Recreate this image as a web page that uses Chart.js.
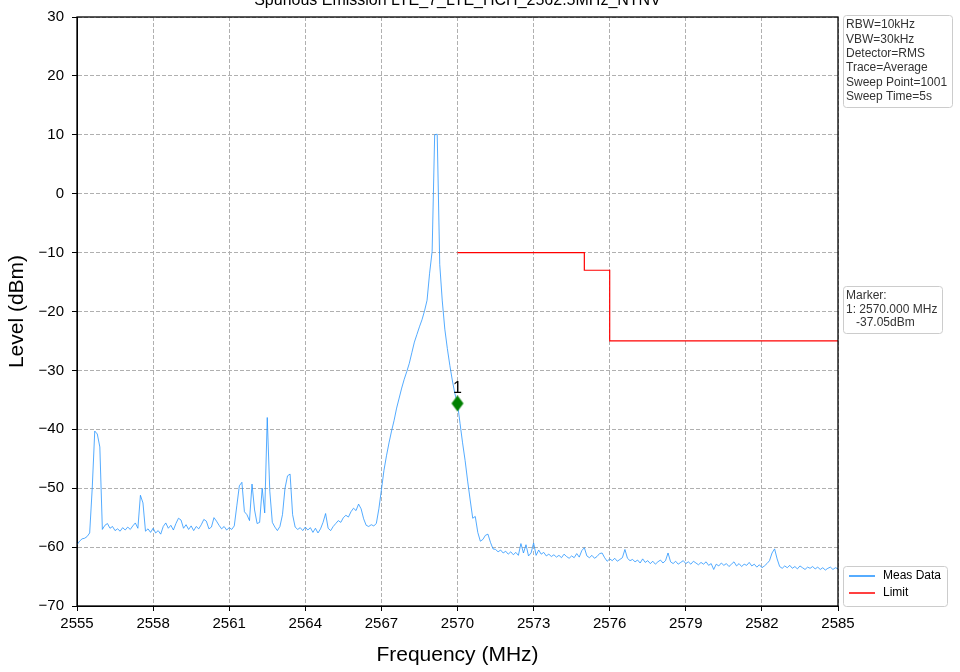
<!DOCTYPE html>
<html><head><meta charset="utf-8">
<script src="https://cdn.jsdelivr.net/npm/chart.js@4.4.0/dist/chart.umd.min.js"></script>
<style>html,body{margin:0;padding:0;background:#fff}#wrap{width:960px;height:672px}</style>
</head><body><div id="wrap"><canvas id="c" width="960" height="672"></canvas></div>
<script>
const chartTitle = 'Spurious Emission LTE_7_LTE_HCH_2562.5MHz_NTNV';
const xAxisTitle = 'Frequency (MHz)';
const yAxisTitle = 'Level (dBm)';
const seriesNames = ['Meas Data', 'Limit'];
const infoLines = ['RBW=10kHz', 'VBW=30kHz', 'Detector=RMS', 'Trace=Average', 'Sweep Point=1001', 'Sweep Time=5s'];
const markerInfo = ['Marker:', '1: 2570.000 MHz', '   -37.05dBm'];
const xTicks = [2555, 2558, 2561, 2564, 2567, 2570, 2573, 2576, 2579, 2582, 2585];
const yTicks = [-70, -60, -50, -40, -30, -20, -10, 0, 10, 20, 30];

const freqs = [
2555.0,2555.1,2555.2,2555.3,2555.4,2555.5,2555.6,2555.7,2555.8,2555.9,
2556.0,2556.1,2556.2,2556.3,2556.4,2556.5,2556.6,2556.7,2556.8,2556.9,
2557.0,2557.1,2557.2,2557.3,2557.4,2557.5,2557.6,2557.7,2557.8,2557.9,
2558.0,2558.1,2558.2,2558.3,2558.4,2558.5,2558.6,2558.7,2558.8,2558.9,
2559.0,2559.1,2559.2,2559.3,2559.4,2559.5,2559.6,2559.7,2559.8,2559.9,
2560.0,2560.1,2560.2,2560.3,2560.4,2560.5,2560.6,2560.7,2560.8,2560.9,
2561.0,2561.1,2561.2,2561.3,2561.4,2561.5,2561.6,2561.7,2561.8,2561.9,
2562.0,2562.1,2562.2,2562.3,2562.4,2562.5,2562.6,2562.7,2562.8,2562.9,
2563.0,2563.1,2563.2,2563.3,2563.4,2563.5,2563.6,2563.7,2563.8,2563.9,
2564.0,2564.1,2564.2,2564.3,2564.4,2564.5,2564.6,2564.7,2564.8,2564.9,
2565.0,2565.1,2565.2,2565.3,2565.4,2565.5,2565.6,2565.7,2565.8,2565.9,
2566.0,2566.1,2566.2,2566.3,2566.4,2566.5,2566.6,2566.7,2566.8,2566.9,
2567.0,2567.1,2567.2,2567.3,2567.4,2567.5,2567.6,2567.7,2567.8,2567.9,
2568.0,2568.1,2568.2,2568.3,2568.4,2568.5,2568.6,2568.7,2568.8,2568.9,
2569.0,2569.1,2569.2,2569.3,2569.4,2569.5,2569.6,2569.7,2569.8,2569.9,
2570.0,2570.1,2570.2,2570.3,2570.4,2570.5,2570.6,2570.7,2570.8,2570.9,
2571.0,2571.1,2571.2,2571.3,2571.4,2571.5,2571.6,2571.7,2571.8,2571.9,
2572.0,2572.1,2572.2,2572.3,2572.4,2572.5,2572.6,2572.7,2572.8,2572.9,
2573.0,2573.1,2573.2,2573.3,2573.4,2573.5,2573.6,2573.7,2573.8,2573.9,
2574.0,2574.1,2574.2,2574.3,2574.4,2574.5,2574.6,2574.7,2574.8,2574.9,
2575.0,2575.1,2575.2,2575.3,2575.4,2575.5,2575.6,2575.7,2575.8,2575.9,
2576.0,2576.1,2576.2,2576.3,2576.4,2576.5,2576.6,2576.7,2576.8,2576.9,
2577.0,2577.1,2577.2,2577.3,2577.4,2577.5,2577.6,2577.7,2577.8,2577.9,
2578.0,2578.1,2578.2,2578.3,2578.4,2578.5,2578.6,2578.7,2578.8,2578.9,
2579.0,2579.1,2579.2,2579.3,2579.4,2579.5,2579.6,2579.7,2579.8,2579.9,
2580.0,2580.1,2580.2,2580.3,2580.4,2580.5,2580.6,2580.7,2580.8,2580.9,
2581.0,2581.1,2581.2,2581.3,2581.4,2581.5,2581.6,2581.7,2581.8,2581.9,
2582.0,2582.1,2582.2,2582.3,2582.4,2582.5,2582.6,2582.7,2582.8,2582.9,
2583.0,2583.1,2583.2,2583.3,2583.4,2583.5,2583.6,2583.7,2583.8,2583.9,
2584.0,2584.1,2584.2,2584.3,2584.4,2584.5,2584.6,2584.7,2584.8,2584.9,
2585.0];

const levels = [
-59.6,-59.0,-58.6,-58.5,-58.2,-57.6,-50.0,-40.3,-40.8,-43.0,
-57.0,-56.3,-56.0,-56.8,-56.5,-57.2,-56.9,-57.3,-56.7,-57.1,
-56.6,-57.0,-56.4,-55.9,-56.8,-51.2,-52.5,-57.3,-56.9,-57.5,
-56.8,-57.6,-57.2,-57.8,-56.5,-55.9,-56.8,-56.3,-57.1,-56.0,
-55.1,-55.4,-56.8,-56.2,-57.0,-56.4,-57.2,-56.5,-56.9,-56.2,
-55.3,-55.6,-56.9,-56.6,-55.0,-55.6,-56.3,-56.9,-56.5,-57.1,
-56.7,-57.0,-56.4,-53.0,-49.6,-49.0,-54.0,-54.5,-55.5,-49.3,
-53.7,-56.0,-55.8,-50.0,-54.2,-38.0,-50.5,-55.8,-56.6,-57.2,
-56.5,-54.5,-50.0,-47.9,-47.6,-54.5,-56.6,-57.0,-56.7,-57.2,
-56.6,-57.1,-56.7,-57.5,-56.8,-57.6,-56.9,-55.8,-54.3,-56.8,
-57.2,-56.5,-56.0,-55.5,-55.8,-55.0,-54.6,-54.9,-54.0,-53.4,
-53.8,-52.7,-53.5,-55.2,-56.3,-56.5,-56.2,-56.4,-56.0,-53.5,
-50.3,-47.0,-44.5,-42.3,-40.3,-38.5,-36.4,-34.7,-33.0,-31.5,
-30.2,-28.8,-27.0,-25.2,-23.9,-22.6,-21.4,-19.9,-18.1,-13.5,
-9.8,10.0,10.1,-12.0,-18.2,-23.0,-26.3,-29.2,-31.8,-34.0,
-35.6,-39.0,-42.3,-45.3,-48.8,-52.0,-55.1,-54.8,-57.5,-59.0,
-58.7,-58.0,-57.8,-59.2,-60.3,-60.4,-60.8,-60.5,-61.0,-60.7,
-61.2,-60.8,-61.3,-60.9,-61.4,-59.4,-61.0,-59.6,-61.5,-61.0,
-59.3,-61.4,-60.5,-61.2,-60.9,-61.5,-61.2,-61.6,-61.3,-61.7,
-61.4,-61.8,-61.2,-61.6,-61.9,-61.5,-61.8,-61.1,-61.7,-60.6,
-60.1,-61.5,-61.8,-61.4,-61.9,-61.6,-61.1,-61.0,-61.8,-62.4,
-62.0,-62.3,-61.9,-62.4,-62.1,-61.8,-60.4,-61.9,-62.3,-62.1,
-62.5,-62.2,-62.7,-62.0,-62.6,-62.3,-62.8,-62.4,-62.9,-62.5,
-62.2,-62.7,-62.3,-61.0,-62.5,-62.8,-62.4,-62.9,-62.6,-62.3,
-62.8,-62.5,-62.9,-62.4,-62.7,-63.0,-62.6,-62.9,-62.5,-63.1,
-62.8,-63.8,-62.9,-63.2,-62.7,-63.1,-62.8,-63.3,-62.9,-62.5,
-63.2,-62.8,-63.3,-62.9,-63.1,-62.6,-63.2,-62.9,-63.4,-63.0,
-63.5,-63.2,-62.8,-62.3,-61.0,-60.3,-62.0,-63.3,-63.6,-63.2,
-63.5,-63.1,-63.6,-63.3,-63.7,-63.2,-63.5,-63.8,-63.4,-63.6,
-63.3,-63.7,-63.4,-63.8,-63.5,-63.9,-63.6,-63.4,-63.8,-63.5,
-63.7];

const limitFreqs = [2570, 2575, 2575, 2576, 2576, 2585];
const limitLevels = [-10, -10, -13, -13, -25, -25];
const markerFreqs = [2570];
const markerLevels = [-35.6];
const markerNames = ['1'];

const FONT = "'Liberation Sans', Arial, Helvetica, sans-serif";

// thin diamond marker image
const dia = document.createElement('canvas');
dia.width = 14; dia.height = 18;
(function(){ const g = dia.getContext('2d'); g.fillStyle = '#008000'; g.beginPath();
  g.moveTo(7,1); g.lineTo(13,9); g.lineTo(7,17); g.lineTo(1,9); g.closePath(); g.fill(); })();

function roundRect(ctx, x, y, w, h, r) {
  ctx.beginPath();
  ctx.moveTo(x + r, y); ctx.lineTo(x + w - r, y); ctx.arcTo(x + w, y, x + w, y + r, r);
  ctx.lineTo(x + w, y + h - r); ctx.arcTo(x + w, y + h, x + w - r, y + h, r);
  ctx.lineTo(x + r, y + h); ctx.arcTo(x, y + h, x, y + h - r, r);
  ctx.lineTo(x, y + r); ctx.arcTo(x, y, x + r, y, r); ctx.closePath();
}

const decor = {
  id: 'decor',
  afterDraw(chart) {
    const ctx = chart.ctx, a = chart.chartArea;
    const xs = chart.scales.x, ys = chart.scales.y;
    ctx.save();
    ctx.strokeStyle = '#000'; ctx.lineWidth = 1.3;
    ctx.strokeRect(a.left, a.top, a.right - a.left, a.bottom - a.top);
    ctx.fillStyle = '#000'; ctx.font = '16px ' + FONT;
    ctx.textAlign = 'center'; ctx.textBaseline = 'alphabetic';
    ctx.fillText(chartTitle, (a.left + a.right) / 2, 5);
    ctx.font = '16px ' + FONT;
    for (let i = 0; i < markerFreqs.length; i++) {
      ctx.fillText(markerNames[i], xs.getPixelForValue(markerFreqs[i]), ys.getPixelForValue(markerLevels[i]) - 10);
    }
    const bx = a.right + 5;
    function box(y, w, h) {
      roundRect(ctx, bx + 0.5, y + 0.5, w, h, 3);
      ctx.fillStyle = 'rgba(255,255,255,0.8)'; ctx.fill();
      ctx.strokeStyle = '#cccccc'; ctx.lineWidth = 1; ctx.stroke();
    }
    ctx.font = '12px ' + FONT; ctx.textAlign = 'left'; ctx.textBaseline = 'middle';
    box(15, 109, 92);
    infoLines.forEach((t, i) => { ctx.fillStyle = '#333'; ctx.fillText(t, bx + 3, 25 + i * 14.3); });
    box(286, 99, 47);
    markerInfo.forEach((t, i) => { ctx.fillStyle = '#333'; ctx.fillText(t, bx + 3, 296 + i * 13.5); });
    box(566, 104, 40);
    const cols = ['#1E90FF', '#FF0000'];
    seriesNames.forEach((t, i) => {
      const yy = 576 + i * 17;
      ctx.strokeStyle = cols[i]; ctx.lineWidth = 1.5;
      ctx.beginPath(); ctx.moveTo(bx + 6, yy); ctx.lineTo(bx + 32, yy); ctx.stroke();
      ctx.fillStyle = '#000'; ctx.fillText(t, bx + 40, yy);
    });
    ctx.restore();
  }
};

const gridOpts = { color: '#b0b0b0', lineWidth: 1, tickLength: 5, tickColor: '#000', tickWidth: 1, tickBorderDash: [], drawTicks: true };
const fmtTick = v => (v < 0 ? '\u2212' + Math.abs(v) : String(v));

new Chart(document.getElementById('c'), {
  type: 'line',
  data: {
    datasets: [
      { label: 'Marker', data: markerFreqs.map((f, i) => ({ x: f, y: markerLevels[i] })),
        showLine: false, pointStyle: dia, pointRadius: 8, order: 0 },
      { label: seriesNames[1], data: limitFreqs.map((f, i) => ({ x: f, y: limitLevels[i] })),
        borderColor: '#FF0000', borderWidth: 1.2, pointRadius: 0, tension: 0, fill: false, order: 1 },
      { label: seriesNames[0], data: freqs.map((f, i) => ({ x: f, y: levels[i] })),
        borderColor: 'rgba(30,144,255,0.85)', borderWidth: 0.9, pointRadius: 0, tension: 0, fill: false, order: 2 }
    ]
  },
  options: {
    responsive: false, animation: false, devicePixelRatio: 1,
    layout: { padding: { top: 16, right: 122, left: 0, bottom: 0 } },
    plugins: { legend: { display: false }, tooltip: { enabled: false }, title: { display: false } },
    scales: {
      x: {
        type: 'linear', min: 2555, max: 2585,
        afterBuildTicks: s => { s.ticks = xTicks.map(v => ({ value: v })); },
        afterFit: s => { s.height = 66; },
        ticks: { color: '#000', font: { family: FONT, size: 15 }, padding: 4, maxRotation: 0, autoSkip: false, callback: fmtTick },
        grid: gridOpts,
        border: { display: true, color: '#000', width: 1, dash: [4, 2] },
        title: { display: true, text: xAxisTitle, color: '#000', font: { family: FONT, size: 21 }, padding: { top: 0, bottom: 4 } }
      },
      y: {
        type: 'linear', min: -70, max: 30,
        afterBuildTicks: s => { s.ticks = yTicks.map(v => ({ value: v })); },
        afterFit: s => { s.width = 77; },
        ticks: { color: '#000', font: { family: FONT, size: 15 }, padding: 8, callback: fmtTick },
        grid: gridOpts,
        border: { display: true, color: '#000', width: 1, dash: [4, 2] },
        title: { display: true, text: yAxisTitle, color: '#000', font: { family: FONT, size: 21 }, padding: { top: 5, bottom: 0 } }
      }
    }
  },
  plugins: [decor]
});
</script>
</body></html>
